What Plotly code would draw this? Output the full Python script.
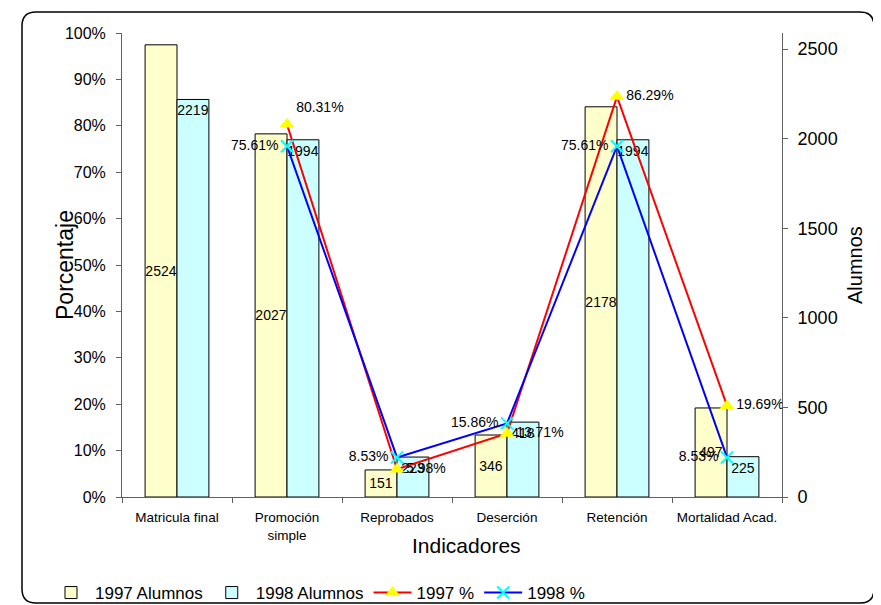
import plotly.graph_objects as go

categorias = ["Matricula final", "Promoción<br>simple", "Reprobados", "Deserción", "Retención", "Mortalidad Acad."]
alumnos_1997 = [2524, 2027, 151, 346, 2178, 497]
alumnos_1998 = [2219, 1994, 223, 418, 1994, 225]
pct_1997 = [None, 0.8031, 0.0598, 0.1371, 0.8629, 0.1969]
pct_1998 = [None, 0.7561, 0.0853, 0.1586, 0.7561, 0.0853]
ticks_pct = [0, 0.1, 0.2, 0.3, 0.4, 0.5, 0.6, 0.7, 0.8, 0.9, 1.0]

FONT = "Liberation Sans, Arial, sans-serif"

def pct_text(vals):
    return ["" if v is None else f"{v*100:.2f}%" for v in vals]

fig = go.Figure()

fig.add_trace(go.Bar(
    x=categorias, y=alumnos_1997, name="1997 Alumnos",
    marker=dict(color="#FFFFCC", line=dict(color="#000000", width=1)),
    text=[str(v) for v in alumnos_1997], textposition="inside", textangle=0,
    insidetextanchor="middle", constraintext="none",
    insidetextfont=dict(color="#000000", size=14, family=FONT),
    yaxis="y", xaxis="x",
))
fig.add_trace(go.Bar(
    x=categorias, y=alumnos_1998, name="1998 Alumnos",
    marker=dict(color="#CCFFFF", line=dict(color="#000000", width=1)),
    text=[str(v) for v in alumnos_1998], textposition="inside", textangle=0,
    insidetextanchor="end", constraintext="none",
    insidetextfont=dict(color="#000000", size=14, family=FONT),
    yaxis="y", xaxis="x",
))
fig.add_trace(go.Scatter(
    x=categorias, y=pct_1997, name="1997 %", mode="lines+markers+text",
    line=dict(color="#FF0000", width=2),
    marker=dict(symbol="triangle-up", size=13, color="#FFFF00", line=dict(width=0)),
    text=pct_text(pct_1997),
    textposition=["top right", "top right", "middle right", "middle right", "middle right", "middle right"],
    textfont=dict(size=14, color="#000000", family=FONT),
    yaxis="y2", xaxis="x", connectgaps=False,
))
fig.add_trace(go.Scatter(
    x=categorias, y=pct_1998, name="1998 %", mode="lines+markers+text",
    line=dict(color="#0000FF", width=2),
    marker=dict(symbol="x-thin", size=12, color="#00FFFF", line=dict(width=2, color="#00FFFF")),
    text=pct_text(pct_1998),
    textposition="middle left",
    textfont=dict(size=14, color="#000000", family=FONT),
    yaxis="y2", xaxis="x", connectgaps=False,
))

# page body adds an 8px offset; figure sized to fit the window
OFF = 8
W, H = 881 - OFF, 605 - OFF
L, T = 122 - OFF, 33 - OFF
R = W - (782 - OFF)
B = H - (497 - OFF)
pw, ph = W - L - R, H - T - B

def px_x(p):
    return (p - OFF - L) / pw

def px_y(p):
    return (H - B - (p - OFF)) / ph

x0, x1 = px_x(22), px_x(874)
y1, y0 = px_y(12), px_y(603)
rx, ry = 14 / pw, 14 / ph
path = (f"M {x0+rx},{y1} L {x1-rx},{y1} Q {x1},{y1} {x1},{y1-ry} "
        f"L {x1},{y0+ry} Q {x1},{y0} {x1-rx},{y0} L {x0+rx},{y0} "
        f"Q {x0},{y0} {x0},{y0+ry} L {x0},{y1-ry} Q {x0},{y1} {x0+rx},{y1} Z")

fig.update_layout(
    width=W, height=H,
    margin=dict(l=L, r=R, t=T, b=B, autoexpand=False),
    paper_bgcolor="white", plot_bgcolor="white",
    font=dict(family=FONT, color="#000000"),
    barmode="group", bargap=0.42, bargroupgap=0,
    showlegend=True,
    legend=dict(orientation="h", x=px_x(47), y=px_y(593), xanchor="left", yanchor="middle",
                font=dict(size=17, family=FONT), bgcolor="rgba(0,0,0,0)",
                traceorder="normal", itemwidth=38),
    xaxis=dict(
        type="category", showline=True, linecolor="#606060", linewidth=1,
        ticks="outside", tickson="boundaries", ticklen=5, tickcolor="#606060",
        tickfont=dict(size=13.5, family=FONT), showgrid=False, zeroline=False,
        range=[-0.5, 5.5], ticklabelstandoff=8,
    ),
    yaxis=dict(
        side="right", range=[0, 2590], dtick=500, showline=True, linecolor="#606060",
        linewidth=1, ticks="outside", ticklen=5, tickcolor="#606060",
        tickfont=dict(size=18, family=FONT), showgrid=False, zeroline=False,
        ticklabelstandoff=6,
    ),
    yaxis2=dict(
        overlaying="y", side="left", range=[0, 1], tickvals=ticks_pct, tickformat=".0%",
        showline=True, linecolor="#606060", linewidth=1, ticks="outside", ticklen=5,
        tickcolor="#606060", tickfont=dict(size=16, family=FONT), showgrid=False,
        zeroline=False, ticklabelstandoff=7,
    ),
    shapes=[dict(type="path", path=path, xref="paper", yref="paper",
                 line=dict(color="#000000", width=1.5), fillcolor="rgba(0,0,0,0)", layer="below")],
    annotations=[
        dict(text="Porcentaje", x=px_x(65), y=0.5, xref="paper", yref="paper",
             xanchor="center", yanchor="middle",
             textangle=-90, showarrow=False, font=dict(size=23, family=FONT)),
        dict(text="Alumnos", x=px_x(855), y=0.5, xref="paper", yref="paper",
             xanchor="center", yanchor="middle",
             textangle=-90, showarrow=False, font=dict(size=20, family=FONT)),
        dict(text="Indicadores", x=px_x(466), y=px_y(545), xref="paper", yref="paper",
             xanchor="center", yanchor="middle",
             showarrow=False, font=dict(size=21, family=FONT)),
    ],
)

fig.write_html("out.html")
